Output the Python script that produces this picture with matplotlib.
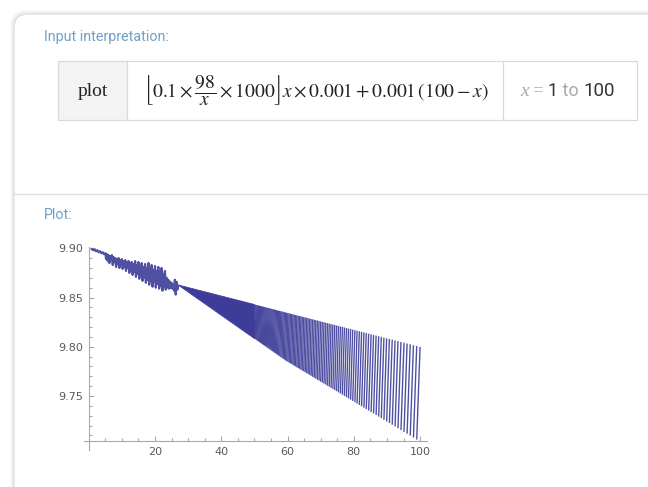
import numpy as np
import matplotlib
matplotlib.use('Agg')
from matplotlib import pyplot as plt
from matplotlib.patches import FancyBboxPatch, Rectangle, Polygon
from matplotlib.collections import LineCollection
from matplotlib.ticker import FixedLocator, MultipleLocator

# Trecho ruidoso do inicio (x de 1 a ~27)
noise_x = [1.0, 1.4, 1.8, 2.2, 2.6, 3.0, 3.4, 3.8, 4.2, 4.6, 5.0,
           5.25, 5.5, 5.75, 6.0, 6.25, 6.5, 6.75, 7.0, 7.25, 7.5, 7.75, 8.0,
           8.25, 8.5, 8.75, 9.0, 9.25, 9.5, 9.75, 10.0, 10.25, 10.5, 10.75,
           11.0, 11.25, 11.5, 11.75, 12.0, 12.25, 12.5, 12.75, 13.0, 13.25,
           13.5, 13.75, 14.0, 14.25, 14.5, 14.75, 15.0, 15.25, 15.5, 15.75,
           16.0, 16.25, 16.5, 16.75, 17.0, 17.25, 17.5, 17.75, 18.0, 18.25,
           18.5, 18.75, 19.0, 19.25, 19.5, 19.75, 20.0, 20.25, 20.5, 20.75,
           21.0, 21.25, 21.5, 21.75, 22.0, 22.25, 22.5, 22.75, 23.0, 23.25,
           23.5, 23.75, 24.0, 24.25, 24.5, 24.75, 25.0, 25.25, 25.5, 25.75,
           26.0, 26.25, 26.5, 26.75, 27.0]
noise_y = [9.899, 9.898, 9.899, 9.897, 9.898, 9.896, 9.897, 9.895, 9.896, 9.894, 9.895,
           9.889, 9.894, 9.887, 9.893, 9.885, 9.892, 9.888, 9.893, 9.883, 9.891, 9.886,
           9.890, 9.881, 9.889, 9.884, 9.890, 9.880, 9.888, 9.883, 9.889, 9.879, 9.887,
           9.881, 9.888, 9.877, 9.886, 9.880, 9.887, 9.875, 9.885, 9.878, 9.886, 9.873,
           9.884, 9.876, 9.887, 9.871, 9.883, 9.874, 9.886, 9.869, 9.882, 9.872, 9.885,
           9.867, 9.881, 9.870, 9.884, 9.865, 9.880, 9.868, 9.885, 9.863, 9.879, 9.867,
           9.883, 9.861, 9.878, 9.866, 9.882, 9.860, 9.877, 9.864, 9.881, 9.859, 9.876,
           9.862, 9.880, 9.857, 9.874, 9.861, 9.877, 9.858, 9.870, 9.860, 9.868, 9.859,
           9.866, 9.860, 9.865, 9.859, 9.863, 9.857, 9.868, 9.853, 9.866, 9.858, 9.862]

# Regiao densa (cunha solida) entre x ~27 e ~50
wedge_x = [27.0, 50.0, 50.0]
wedge_y = [9.8627, 9.8429, 9.8084]

# Dentes da serra (posicao, topo e base)
tooth_x = [50.00, 50.26, 50.52, 50.78, 51.04, 51.31, 51.58, 51.85, 52.13, 52.41,
           52.69, 52.97, 53.26, 53.55, 53.85, 54.14, 54.44, 54.75, 55.06, 55.37,
           55.68, 56.00, 56.32, 56.65, 56.98, 57.31, 57.65, 57.99, 58.33, 58.68,
           59.04, 59.39, 59.76, 60.12, 60.49, 60.87, 61.25, 61.64, 62.03, 62.42,
           62.82, 63.23, 63.64, 64.05, 64.47, 64.90, 65.33, 65.77, 66.22, 66.67,
           67.12, 67.59, 68.06, 68.53, 69.01, 69.50, 70.00, 70.50, 71.01, 71.53,
           72.06, 72.59, 73.13, 73.68, 74.24, 74.81, 75.38, 75.97, 76.56, 77.17,
           77.78, 78.40, 79.03, 79.67, 80.33, 80.99, 81.67, 82.35, 83.05, 83.76,
           84.48, 85.22, 85.96, 86.73, 87.50, 88.29, 89.09, 89.91, 90.74, 91.59,
           92.45, 93.33, 94.23, 95.15, 96.08, 97.03, 98.00, 98.99, 100.00]
tooth_top = [9.8429, 9.8427, 9.8425, 9.8422, 9.8420, 9.8418, 9.8416, 9.8413, 9.8411,
             9.8409, 9.8406, 9.8404, 9.8401, 9.8399, 9.8396, 9.8394, 9.8391, 9.8388,
             9.8386, 9.8383, 9.8380, 9.8378, 9.8375, 9.8372, 9.8369, 9.8366, 9.8363,
             9.8360, 9.8358, 9.8355, 9.8351,
             9.8348, 9.8345, 9.8342, 9.8339, 9.8336, 9.8332, 9.8329, 9.8326, 9.8322,
             9.8319, 9.8315, 9.8312, 9.8308, 9.8305, 9.8301, 9.8297, 9.8294, 9.8290,
             9.8286, 9.8282, 9.8278, 9.8274, 9.8270, 9.8266, 9.8262, 9.8257, 9.8253,
             9.8249, 9.8244, 9.8240, 9.8235, 9.8230, 9.8226, 9.8221, 9.8216, 9.8211,
             9.8206, 9.8201, 9.8196, 9.8190, 9.8185, 9.8180, 9.8174, 9.8168, 9.8163,
             9.8157, 9.8151, 9.8145, 9.8139, 9.8133, 9.8126, 9.8120, 9.8113, 9.8107,
             9.8100, 9.8093, 9.8086, 9.8079, 9.8072, 9.8064, 9.8057, 9.8049, 9.8041,
             9.8033, 9.8025, 9.8016, 9.8008, 9.7999]
tooth_bot = [9.8084, 9.8078, 9.8072, 9.8065, 9.8059, 9.8053, 9.8047, 9.8040, 9.8034,
             9.8027, 9.8020, 9.8014, 9.8007, 9.8000, 9.7993, 9.7986, 9.7979, 9.7972,
             9.7964, 9.7957, 9.7950, 9.7942, 9.7935, 9.7927, 9.7919, 9.7911, 9.7903,
             9.7895, 9.7887, 9.7879, 9.7870,
             9.7862, 9.7854, 9.7847, 9.7839, 9.7832, 9.7824, 9.7816, 9.7808, 9.7800,
             9.7792, 9.7784, 9.7775, 9.7767, 9.7758, 9.7750, 9.7741, 9.7732, 9.7723,
             9.7714, 9.7705, 9.7695, 9.7686, 9.7676, 9.7666, 9.7656, 9.7646, 9.7636,
             9.7626, 9.7615, 9.7604, 9.7594, 9.7583, 9.7572, 9.7560, 9.7549, 9.7537,
             9.7525, 9.7513, 9.7501, 9.7488, 9.7476, 9.7463, 9.7450, 9.7436, 9.7423,
             9.7409, 9.7396, 9.7381, 9.7367, 9.7352, 9.7337, 9.7322, 9.7307, 9.7291,
             9.7275, 9.7259, 9.7242, 9.7225, 9.7208, 9.7191, 9.7173, 9.7154, 9.7136,
             9.7117, 9.7098, 9.7078, 9.7058, 9.7037]

x_ticks = [20, 40, 60, 80, 100]
y_ticks = [9.75, 9.80, 9.85, 9.90]
y_labels = ['9.75', '9.80', '9.85', '9.90']

plt.rcParams['mathtext.fontset'] = 'stix'

W, H = 648, 487
fig = plt.figure(figsize=(W / 100, H / 100), dpi=100)
fig.patch.set_facecolor('white')

# Eixo de fundo em pixels (y para baixo)
bg = fig.add_axes([0, 0, 1, 1])
bg.set_xlim(0, W)
bg.set_ylim(H, 0)
bg.axis('off')

# Sombra e cartao
for k, c in enumerate(['#f8f8f8', '#f2f2f2', '#ececec']):
    bg.add_patch(FancyBboxPatch((14 - 3 + k, 14 - 3 + k), 700, 600,
                                boxstyle='round,pad=0,rounding_size=14',
                                ec=c, fc='none', lw=1))
bg.add_patch(FancyBboxPatch((14, 14), 700, 600, boxstyle='round,pad=0,rounding_size=14',
                            ec='#dcdcdc', fc='white', lw=0.9))

label_color = '#6f9fc7'
bg.text(44, 37, 'Input interpretation:', fontsize=10.3, family='Roboto',
        color=label_color, va='center', ha='left')
bg.text(44, 215, 'Plot:', fontsize=10.3, family='Roboto',
        color=label_color, va='center', ha='left')

# Tabela da interpretacao
bg.add_patch(Rectangle((58, 61), 69, 59, fc='#f3f3f3', ec='none'))
bg.add_patch(Rectangle((58, 61), 579, 59, fc='none', ec='#dadada', lw=0.9))
bg.plot([127, 127], [61, 120], color='#dadada', lw=0.9)
bg.plot([503, 503], [61, 120], color='#dadada', lw=0.9)
bg.text(93, 96.5, 'plot', fontsize=14, family='Liberation Serif', color='#222222',
        ha='center', va='baseline')
bg.text(144, 90, r'$\left\lfloor 0.1\times\dfrac{98}{x}\times1000\right\rfloor x\times0.001+0.001\,(100-x)$',
        fontsize=14, color='#222222', ha='left', va='center')

t1 = bg.text(520, 96, 'x', fontsize=14, family='Liberation Serif', style='italic',
             color='#aaaaaa', ha='left', va='baseline')
t2 = bg.annotate(' = ', xy=(1, 0), xycoords=t1, fontsize=13, family='Liberation Serif',
                 color='#aaaaaa', ha='left', va='bottom')
t3 = bg.annotate('1', xy=(1, 0), xycoords=t2, fontsize=13, family='Roboto',
                 color='#333333', ha='left', va='bottom')
t4 = bg.annotate(' to ', xy=(1, 0), xycoords=t3, fontsize=13, family='Roboto',
                 color='#aaaaaa', ha='left', va='bottom')
bg.annotate('100', xy=(1, 0), xycoords=t4, fontsize=13.5, family='Roboto',
            color='#333333', ha='left', va='bottom')

# Separador horizontal
bg.plot([14, W], [194, 194], color='#e0e0e0', lw=1)

# Prolongamentos dos eixos
axis_color = '#a8a8a8'
bg.plot([84, 89.3], [441, 441], color=axis_color, lw=0.8)
bg.plot([89.3, 89.3], [441, 450], color=axis_color, lw=0.8)

# Grafico principal
left, right, top, bottom = 89.3, 426.7, 246.7, 441.0
ax = fig.add_axes([left / W, (H - bottom) / H, (right - left) / W, (bottom - top) / H])
ax.patch.set_visible(False)
ax.set_xlim(0.17, 102.0)
ax.set_ylim(9.7043, 9.9016)

line_color = '#3d3d99'
ax.plot(noise_x, noise_y, color=line_color, lw=1.6, alpha=0.9)
ax.add_patch(Polygon(list(zip(wedge_x, wedge_y)), closed=True, fc=line_color,
                     ec=line_color, lw=0.6))

# So as subidas da serra (sem os saltos verticais, como no Wolfram)
segs = [[(x0, b0), (x1, t1_)] for x0, b0, x1, t1_ in
        zip(tooth_x[:-1], tooth_bot[:-1], tooth_x[1:], tooth_top[1:])]
ax.add_collection(LineCollection(segs, colors=line_color, linewidths=1.0, alpha=0.9))

for s in ['top', 'right']:
    ax.spines[s].set_visible(False)
for s in ['left', 'bottom']:
    ax.spines[s].set_color(axis_color)
    ax.spines[s].set_linewidth(0.8)

ax.xaxis.set_major_locator(FixedLocator(x_ticks))
ax.xaxis.set_minor_locator(MultipleLocator(5))
ax.yaxis.set_major_locator(FixedLocator(y_ticks))
ax.yaxis.set_minor_locator(MultipleLocator(0.01))
ax.set_xticklabels([str(v) for v in x_ticks])
ax.set_yticklabels(y_labels)
ax.tick_params(which='both', direction='in', color=axis_color, width=0.8,
               labelcolor='#5a5a5a', labelsize=8)
ax.tick_params(which='major', length=3.6, pad=4.5)
ax.tick_params(which='minor', length=2.0)

fig.savefig('out.png', dpi=100)
